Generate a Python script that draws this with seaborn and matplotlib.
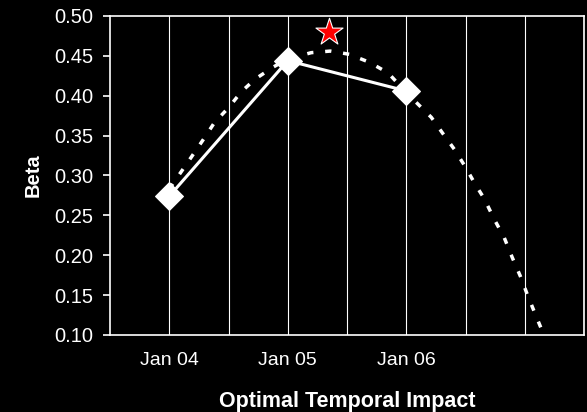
import matplotlib
matplotlib.use("Agg")
import matplotlib.pyplot as plt
import seaborn as sns
import pandas as pd

# Observed beta per period
periods = ["Jan 04", "Jan 05", "Jan 06", ""]
beta_x = [0, 1, 2]
beta = [0.274, 0.444, 0.406]

# Fitted trend (in category units)
trend_x = [0.0, 0.093, 0.186, 0.287, 0.380, 0.506, 0.608, 0.726, 0.878, 1.0,
           1.198, 1.359, 1.519, 1.688, 1.848, 2.0, 2.211, 2.312, 2.405, 2.498,
           2.582, 2.658, 2.743, 2.827, 2.895, 2.962, 3.021, 3.089, 3.156]
trend_y = [0.283, 0.303, 0.323, 0.345, 0.366, 0.386, 0.405, 0.421, 0.436, 0.446,
           0.454, 0.456, 0.452, 0.442, 0.4285, 0.404, 0.373, 0.352, 0.333, 0.311,
           0.289, 0.271, 0.245, 0.222, 0.197, 0.174, 0.151, 0.126, 0.102]

# Optimum marker
opt_x = [1.348]
opt_y = [0.480]

y_ticks = [0.10, 0.15, 0.20, 0.25, 0.30, 0.35, 0.40, 0.45, 0.50]

sns.set_style("white", rc={"axes.facecolor": "black", "figure.facecolor": "black"})
plt.rcParams["font.family"] = ["Liberation Sans", "DejaVu Sans"]

fig = plt.figure(figsize=(5.87, 4.12), dpi=100)
ax = fig.add_axes([0.1874, 0.1869, 0.9949 - 0.1874, 0.9612 - 0.1869])
ax.set_facecolor("black")

trend_df = pd.DataFrame({"x": trend_x, "y": trend_y})
beta_df = pd.DataFrame({"x": beta_x, "y": beta})
opt_df = pd.DataFrame({"x": opt_x, "y": opt_y})

sns.lineplot(data=trend_df, x="x", y="y", ax=ax, color="white", lw=2.5,
             linestyle=(0, (1.8, 3.4)), estimator=None, sort=False, zorder=3)
sns.lineplot(data=beta_df, x="x", y="y", ax=ax, color="white", lw=2.2,
             marker="D", markersize=14, markeredgecolor="white",
             estimator=None, zorder=4)
sns.scatterplot(data=opt_df, x="x", y="y", ax=ax, marker="*", s=420,
                color="red", edgecolor="white", linewidth=0.8, zorder=5)

ax.set_xlim(-0.5, 3.5)
ax.set_ylim(0.10, 0.50)
ax.set_yticks(y_ticks)
ax.set_yticklabels([f"{v:.2f}" for v in y_ticks])

ax.set_xticks([0, 1, 2, 3])
ax.set_xticklabels(periods)
ax.set_xticks([-0.5, 0.5, 1.5, 2.5, 3.5], minor=True)

# vertical grid at centres and boundaries
for gx in [0, 0.5, 1, 1.5, 2, 2.5, 3, 3.5]:
    ax.axvline(gx, color="white", lw=0.8, zorder=1)

for sp in ax.spines.values():
    sp.set_visible(True)
    sp.set_color("white")
    sp.set_linewidth(1.2)

ax.tick_params(axis="x", which="major", length=0, colors="white",
               labelsize=14, pad=12)
ax.tick_params(axis="x", which="minor", length=6, width=1.2, color="white")
ax.tick_params(axis="y", which="major", length=5, width=1.2, color="white",
               labelcolor="white", labelsize=14.5, pad=7, left=True)

ax.set_xlabel("Optimal Temporal Impact", color="white", fontsize=15.5,
              fontweight="bold", labelpad=16)
ax.set_ylabel("Beta", color="white", fontsize=14.5, fontweight="bold",
              labelpad=8)

fig.savefig("out.png", dpi=100, facecolor="black")
